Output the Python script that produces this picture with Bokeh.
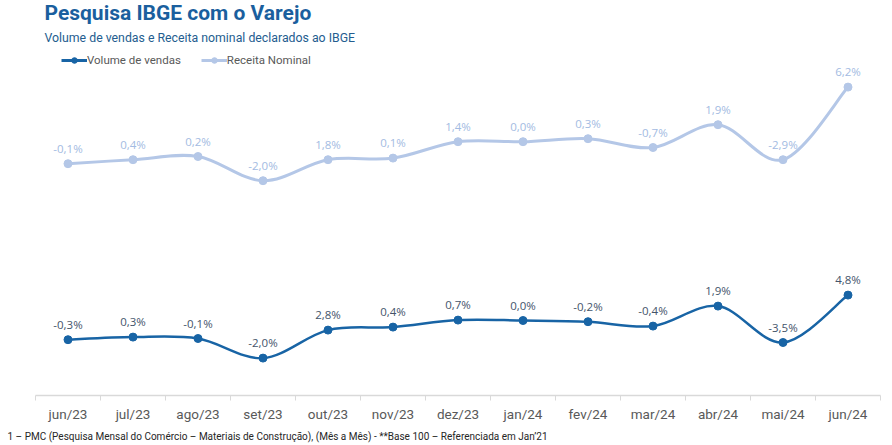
from bokeh.plotting import figure
from bokeh.models import (Range1d, LinearAxis, FixedTicker, Title, Legend, LegendItem,
                          ColumnDataSource)
from bokeh.embed import file_html
from bokeh.resources import INLINE

months = ["jun/23", "jul/23", "ago/23", "set/23", "out/23", "nov/23", "dez/23",
          "jan/24", "fev/24", "mar/24", "abr/24", "mai/24", "jun/24"]
# index levels (relative)
receita_idx = [118.4, 120.4, 122.0, 109.9, 120.4, 121.2, 129.4, 129.4, 130.9, 126.5, 137.9, 120.4, 156.7]
volume_idx = [30.4, 31.7, 31.0, 21.2, 35.2, 36.7, 40.2, 40.0, 39.4, 37.2, 47.2, 29.0, 52.7]
# month-over-month variation labels
receita_lbl = ["-0,1%", "0,4%", "0,2%", "-2,0%", "1,8%", "0,1%", "1,4%", "0,0%", "0,3%", "-0,7%", "1,9%", "-2,9%", "6,2%"]
volume_lbl = ["-0,3%", "0,3%", "-0,1%", "-2,0%", "2,8%", "0,4%", "0,7%", "0,0%", "-0,2%", "-0,4%", "1,9%", "-3,5%", "4,8%"]

VOL_C = "#1864a5"
REC_C = "#b4c7e7"
NARROW = "'Liberation Sans Narrow', 'Arial Narrow', Roboto, sans-serif"

p = figure(frame_width=845, frame_height=345, output_backend="svg", toolbar_location=None,
           x_range=Range1d(-0.5, 12.5), y_range=Range1d(2.5, 175),
           x_axis_location=None, y_axis_location=None,
           min_border_left=35, min_border_right=4, min_border_top=0, min_border_bottom=0)
p.outline_line_color = None
p.grid.visible = False
p.background_fill_color = "white"
p.border_fill_color = "white"

xs = list(range(len(months)))


def bezier_parts(x, y, t=1.0 / 6.0):
    n = len(x)
    x0, y0, x1, y1, cx0, cy0, cx1, cy1 = [], [], [], [], [], [], [], []
    for i in range(n - 1):
        pxm = x[i - 1] if i > 0 else x[i]
        pym = y[i - 1] if i > 0 else y[i]
        pxp = x[i + 2] if i + 2 < n else x[i + 1]
        pyp = y[i + 2] if i + 2 < n else y[i + 1]
        x0.append(x[i]); y0.append(y[i]); x1.append(x[i + 1]); y1.append(y[i + 1])
        cx0.append(x[i] + (x[i + 1] - pxm) * t)
        cy0.append(y[i] + (y[i + 1] - pym) * t)
        cx1.append(x[i + 1] - (pxp - x[i]) * t)
        cy1.append(y[i + 1] - (pyp - y[i]) * t)
    return dict(x0=x0, y0=y0, x1=x1, y1=y1, cx0=cx0, cy0=cy0, cx1=cx1, cy1=cy1)


scatters = {}
for vals, lbls, col, lcol, lw, name in [
        (receita_idx, receita_lbl, REC_C, "#a3bbe2", 3, "rec"),
        (volume_idx, volume_lbl, VOL_C, "#44546a", 2.5, "vol")]:
    bz = ColumnDataSource(bezier_parts(xs, vals))
    p.bezier(x0="x0", y0="y0", x1="x1", y1="y1", cx0="cx0", cy0="cy0", cx1="cx1", cy1="cy1",
             source=bz, line_color=col, line_width=lw)
    src = ColumnDataSource(dict(x=xs, y=vals, t=lbls))
    scatters[name] = p.scatter(x="x", y="y", source=src, size=8, fill_color=col, line_color=col)
    p.text(x="x", y="y", text="t", source=src, text_align="center", text_baseline="bottom",
           y_offset=-8, text_font_size="11.5px", text_color=lcol, text_font={"value": "Open Sans"})

# legend built with line+marker glyph renderers
leg_vol_line = p.line(x=[0], y=[0], line_color=VOL_C, line_width=3, visible=False)
leg_rec_line = p.line(x=[0], y=[0], line_color=REC_C, line_width=3, visible=False)
legend = Legend(items=[LegendItem(label="Volume de vendas", renderers=[leg_vol_line, scatters["vol"]]),
                       LegendItem(label="Receita Nominal", renderers=[leg_rec_line, scatters["rec"]])],
                location=(26, 328), orientation="horizontal", border_line_color=None,
                background_fill_alpha=0, padding=0, margin=0, spacing=20,
                glyph_width=26, glyph_height=14, label_height=14, label_standoff=0,
                label_text_font_size="11.5px", label_text_color="#595959", label_text_font=NARROW)
p.add_layout(legend, "center")

# x axis: labels at month centers, small ticks at month boundaries
ax = LinearAxis(ticker=FixedTicker(ticks=xs, minor_ticks=[i - 0.5 for i in range(len(months) + 1)]),
                major_label_overrides={i: m for i, m in enumerate(months)},
                axis_line_color="#d9d9d9", axis_line_width=1.5,
                major_tick_line_color=None, major_tick_in=0, major_tick_out=0,
                minor_tick_line_color="#d9d9d9", minor_tick_in=0, minor_tick_out=5,
                major_label_text_font_size="13.5px", major_label_text_color="#595959",
                major_label_text_font=NARROW, major_label_standoff=5)
p.add_layout(ax, "below")

p.add_layout(Title(text="1 – PMC (Pesquisa Mensal do Comércio – Materiais de Construção), (Mês a Mês) - **Base 100 – Referenciada em Jan’21",
                   text_font_size="10px", text_font=NARROW, text_font_style="normal",
                   text_color="#262626", align="left", offset=-28, standoff=8), "below")

p.add_layout(Title(text="Volume de vendas e Receita nominal declarados ao IBGE",
                   text_font_size="12.3px", text_font="Roboto", text_font_style="normal",
                   text_color="#245d8f", align="left", offset=9, standoff=12), "above")
p.add_layout(Title(text="Pesquisa IBGE com o Varejo",
                   text_font_size="21px", text_font="Roboto", text_font_style="bold",
                   text_color="#1a5f9e", align="left", offset=9, standoff=-4), "above")

open("out.html", "w").write(file_html(p, INLINE))
